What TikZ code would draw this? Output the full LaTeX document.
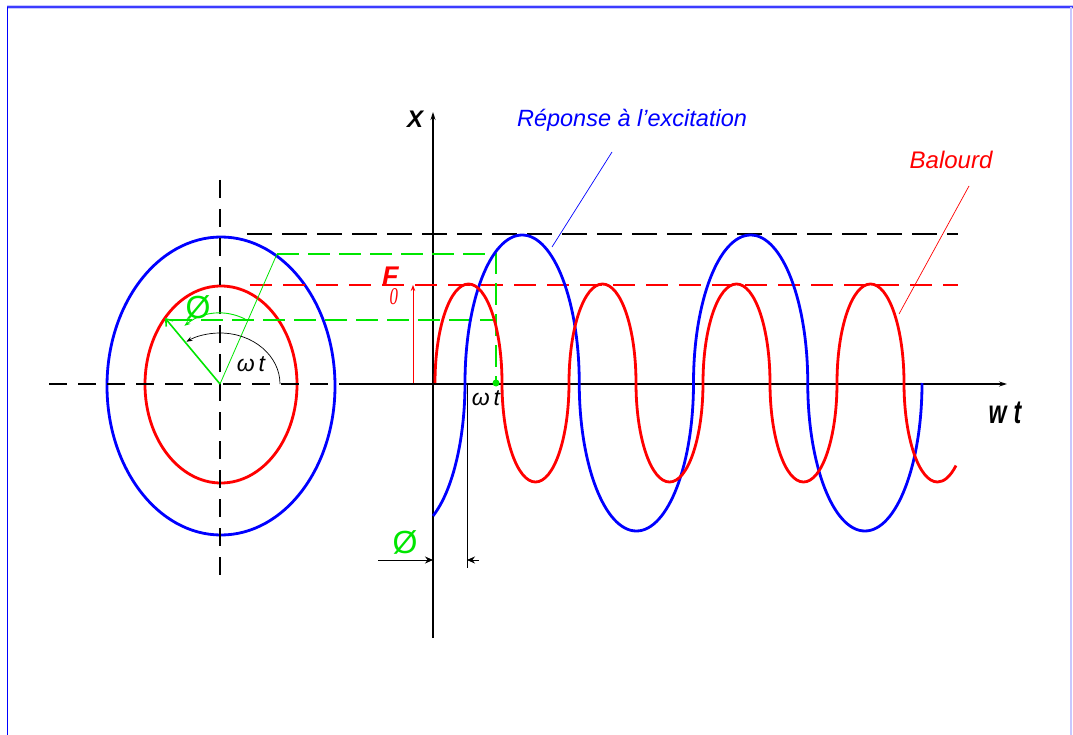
\documentclass[tikz,border=0pt]{standalone}
\usepackage{fontspec}
\setmainfont{Liberation Sans}
\newfontfamily\seriffam{Liberation Serif}
\usetikzlibrary{arrows.meta}
\definecolor{cred}{RGB}{255,0,0}
\definecolor{cblue}{RGB}{0,0,255}
\definecolor{cgreen}{RGB}{0,230,0}
\definecolor{frameblue}{RGB}{60,60,255}
\definecolor{framelight}{RGB}{200,200,255}
\begin{document}
\begin{tikzpicture}[x=1pt,y=-1pt,
  curve/.style={line width=2.8pt},
  axisline/.style={black,line width=1.1pt},
  centerline/.style={black,line width=1.1pt,dash pattern=on 18pt off 11pt},
  dashdot/.style={black,line width=1.1pt,dash pattern=on 25pt off 10pt},
  reddash/.style={cred,line width=1.1pt,dash pattern=on 22pt off 11pt},
  gdash/.style={cgreen,line width=1.2pt,dash pattern=on 22pt off 9pt},
  leader/.style={line width=0.7pt},
  tip/.style={-{Stealth[length=8pt,width=5pt]}},
  smalltip/.style={-{Stealth[length=6pt,width=4.5pt]}},
  dimtip/.style={-{Stealth[length=8pt,width=7pt]}},
  lbl/.style={inner sep=0pt,anchor=center}
]
\useasboundingbox (0,0) rectangle (1073,735);
\fill[white] (0,0) rectangle (1073,735);
% frame
\draw[framelight,line width=4pt] (7,7) -- (1073,7);
\draw[frameblue,line width=2pt] (7,7) -- (1073,7);
\draw[cblue,line width=1.5pt] (7.5,7) -- (7.5,735);
\draw[framelight,line width=1.2pt] (1071,7) -- (1071,735);

% centre of the disc
\coordinate (O) at (220,384);

% ellipses
\draw[cblue,curve] (221,386) ellipse [x radius=114, y radius=149];
\draw[cred,curve] (221,384.5) ellipse [x radius=76, y radius=98.5];

% centre lines and axes
\coordinate (hl) at (49,384);
\coordinate (hr) at (340,384);
\coordinate (xe) at (1007,384);
\coordinate (vt) at (220,180);
\coordinate (vb) at (220,582);
\coordinate (yb) at (433,638);
\coordinate (yt) at (433,112);
\draw[centerline] (hl) -- (hr);
\draw[axisline,tip] (hr) -- (xe);
\draw[centerline] (vt) -- (vb);
\draw[axisline,tip] (yb) -- (yt);

% horizontal guide lines
\coordinate (bk1) at (247,234);
\coordinate (bk2) at (958,234);
\coordinate (rd1) at (250,285);
\coordinate (rd2) at (958,285);
\draw[dashdot] (bk1) -- (bk2);
\draw[reddash] (rd1) -- (rd2);

% green construction
\coordinate (gB) at (277,254);
\coordinate (gR) at (165,318);
\coordinate (gU) at (496,254);
\coordinate (gL1) at (170,320);
\coordinate (gL2) at (496,320);
\coordinate (gP) at (496,383);
\draw[gdash] (gB) -- (gU) -- (gP);
\draw[gdash] (gL1) -- (gL2);
\draw[cgreen,line width=0.8pt] (O) -- (gB);
\draw[cgreen,line width=1.6pt,-{Straight Barb[length=6pt,width=9pt]}] (O) -- (gR);
\draw[cgreen,line width=0.9pt,smalltip] (O) ++(-66:62 and 71) arc[start angle=-66,end angle=-125,x radius=62,y radius=71];
\draw[black,line width=0.7pt,smalltip] (O) ++(0:60 and 51) arc[start angle=0,end angle=-124,x radius=60,y radius=51];
\fill[cgreen] (gP) circle[radius=3.5];

% F0 arrow
\coordinate (f1) at (413,383);
\coordinate (f2) at (413,285);
\draw[cred,line width=0.8pt,smalltip] (f1) -- (f2);

% phase dimension
\coordinate (ph1) at (467,383);
\coordinate (ph2) at (467,568);
\coordinate (da) at (378,560);
\coordinate (db) at (433,560);
\coordinate (dc) at (479,560);
\coordinate (dd) at (467,560);
\draw[black,line width=0.9pt] (ph1) -- (ph2);
\draw[black,line width=0.9pt,dimtip] (da) -- (db);
\draw[black,line width=0.9pt,dimtip] (dc) -- (dd);

% response curve (blue)
\draw[cblue,curve] (407.875,383) ++(63.91:57.125 and 148)
  arc[start angle=63.91,end angle=0,x radius=57.125,y radius=148]
  arc[start angle=180,end angle=360,x radius=57.125,y radius=148]
  arc[start angle=180,end angle=0,x radius=57.125,y radius=148]
  arc[start angle=180,end angle=360,x radius=57.125,y radius=148]
  arc[start angle=180,end angle=0,x radius=57.125,y radius=148];

% unbalance curve (red)
\draw[cred,curve] (435,383)
  arc[start angle=180,end angle=360,x radius=33.5,y radius=99]
  arc[start angle=180,end angle=0,x radius=33.5,y radius=99]
  arc[start angle=180,end angle=360,x radius=33.5,y radius=99]
  arc[start angle=180,end angle=0,x radius=33.5,y radius=99]
  arc[start angle=180,end angle=360,x radius=33.5,y radius=99]
  arc[start angle=180,end angle=0,x radius=33.5,y radius=99]
  arc[start angle=180,end angle=360,x radius=33.5,y radius=99]
  arc[start angle=180,end angle=56.5,x radius=33.5,y radius=99];

% leaders
\coordinate (bl1) at (612,152);
\coordinate (bl2) at (552,247);
\coordinate (rl1) at (969,186);
\coordinate (rl2) at (899,314);
\draw[cblue,leader] (bl1) -- (bl2);
\draw[cred,leader] (rl1) -- (rl2);

% labels
\node[lbl,font=\fontsize{24}{24}\selectfont\bfseries\itshape] (xlab) at (415,119) {X};
\node[lbl,cblue,font=\fontsize{23.5}{24}\selectfont\itshape] (rep) at (632,120) {Réponse à l'excitation};
\node[lbl,cred,font=\fontsize{24}{24}\selectfont\itshape] (bal) at (951,160) {Balourd};
\node[lbl,xscale=0.7,font=\fontsize{33}{33}\selectfont\bfseries\itshape] (wtx) at (1005,413) {w\hspace{0.3em}t};
\node[lbl,font=\fontsize{23}{23}\selectfont\itshape] (wt1) at (251,364) {ω\,t};
\node[lbl,font=\fontsize{23}{23}\selectfont\itshape] (wt2) at (486,398) {ω\,t};
\node[inner sep=0pt,anchor=base west,cred] (F) at (382,286)
  {{\fontsize{27}{27}\selectfont\bfseries\itshape F}\kern-9pt\raisebox{-19pt}{\scalebox{0.7}[1]{\fontsize{24}{24}\seriffam\itshape 0}}};
\node[lbl,cgreen,font=\fontsize{32}{32}\selectfont] (phi1) at (198,307) {Ø};
\node[lbl,cgreen,font=\fontsize{32}{32}\selectfont] (phi2) at (405,542) {Ø};
\end{tikzpicture}
\end{document}
